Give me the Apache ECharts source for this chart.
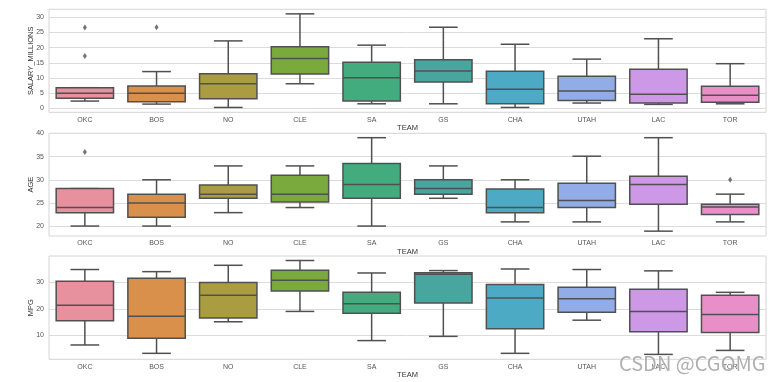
<!DOCTYPE html>
<html><head><meta charset="utf-8">
<script src="https://cdn.jsdelivr.net/npm/echarts@6/dist/echarts.min.js"></script>
<style>html,body{margin:0;padding:0;background:#fff}#c{width:781px;height:382px}</style>
</head><body><div id="c"></div>
<script>
const teams = ['OKC','BOS','NO','CLE','SA','GS','CHA','UTAH','LAC','TOR'];
// [min, Q1, median, Q3, max]
const salaryBox = [[2.4,3.3,4.95,6.8,6.8],[1.4,2.2,4.95,7.35,12.1],[0.3,3.2,8.1,11.4,22.2],[8.1,11.3,16.4,20.3,31.1],[1.5,2.4,10.1,15.2,20.8],[1.5,8.7,12.3,16.0,26.7],[0.3,1.5,6.3,12.2,21.1],[1.75,2.6,5.7,10.55,16.2],[1.3,1.75,4.6,12.85,22.9],[1.5,2.0,4.3,7.25,14.7]];
const salaryOut = [[0,26.6],[0,17.2],[1,26.7]];
const ageBox = [[20,22.9,24.0,28.1,28.1],[20,21.9,25,26.9,30],[22.9,26,26.9,28.9,33],[24,25.2,26.9,31,33],[20,26,29,33.5,39.1],[26,26.9,28.1,30,33],[20.9,22.9,24,28,30],[20.9,24,25.5,29.25,35.1],[18.9,24.7,29,30.75,39.1],[20.9,22.5,24.1,24.7,26.9]];
const ageOut = [[0,36],[9,30]];
const mpgBox = [[6.35,15.5,21.3,30.4,34.8],[3.2,8.9,17.2,31.5,34.0],[15.1,16.5,25.1,29.9,36.4],[19.0,26.7,30.75,34.5,38.2],[8.0,18.3,21.9,26.2,33.5],[9.6,22.2,33.0,33.6,34.4],[3.2,12.5,24.1,29.2,35.0],[15.7,18.7,23.8,28.1,34.8],[2.8,11.3,19.0,27.4,34.3],[4.3,11.1,17.8,25.1,26.2]];
const mpgOut = [];
const salaryTicks = [0,5,10,15,20,25,30];
const ageTicks = [20,25,30,35,40];
const mpgTicks = [10,20,30];
const colors = ['#E8919E','#D9904B','#AA9D41','#7AAA3E','#43AC7E','#49A69E','#4CAAC4','#91ACE6','#CD99E6','#E88FC8'];
const edge = '#505050';

const chart = echarts.init(document.getElementById('c'), null, {renderer:'canvas'});

function renderBox(params, api){
  const x = api.value(0);
  const p = i => api.coord([x, api.value(i)]);
  const lo = p(1), q1 = p(2), med = p(3), q3 = p(4), hi = p(5);
  const band = api.size([1,0])[0];
  const bw = band*0.8, cw = bw*0.5;
  const cx = lo[0];
  const ls = {stroke: edge, lineWidth: 1.5};
  return {type:'group', children:[
    {type:'line', shape:{x1:cx,y1:q3[1],x2:cx,y2:hi[1]}, style:ls},
    {type:'line', shape:{x1:cx,y1:q1[1],x2:cx,y2:lo[1]}, style:ls},
    {type:'line', shape:{x1:cx-cw/2,y1:hi[1],x2:cx+cw/2,y2:hi[1]}, style:ls},
    {type:'line', shape:{x1:cx-cw/2,y1:lo[1],x2:cx+cw/2,y2:lo[1]}, style:ls},
    {type:'rect', shape:{x:cx-bw/2,y:q3[1],width:bw,height:q1[1]-q3[1]}, style:{fill:colors[params.dataIndex], stroke:edge, lineWidth:1.5}},
    {type:'line', shape:{x1:cx-bw/2,y1:med[1],x2:cx+bw/2,y2:med[1]}, style:ls}
  ]};
}

const grids = [
  {left:49, width:717, top:9.3, height:103},
  {left:49, width:717, top:133.3, height:102.7},
  {left:49, width:717, top:256, height:103.3}
];
const yRanges = [[-1.3,32.6],[17.85,40.05],[0.95,39.9]];
const yTicks = [salaryTicks, ageTicks, mpgTicks];
const yNames = ['SALARY_MILLIONS','AGE','MPG'];
const boxes = [salaryBox, ageBox, mpgBox];
const outs = [salaryOut, ageOut, mpgOut];
const ff = 'Liberation Sans, Arial, sans-serif';

const option = {
  backgroundColor:'#fff',
  animation:false,
  grid: grids.map(g => Object.assign({show:true, borderColor:'#d4d4d4', borderWidth:1, backgroundColor:'#fff'}, g)),
  xAxis: grids.map((g,i) => ({
    type:'category', gridIndex:i, data:teams, boundaryGap:true,
    axisLine:{show:false}, axisTick:{show:false}, splitLine:{show:false},
    axisLabel:{fontSize:7, color:'#555', margin:4, fontFamily:ff},
    name:'TEAM', nameLocation:'middle', nameGap:12, nameMoveOverlap:false,
    nameTextStyle:{fontSize:7.5, color:'#333', fontFamily:ff}
  })),
  yAxis: grids.map((g,i) => ({
    type:'value', gridIndex:i, min:yRanges[i][0], max:yRanges[i][1],
    axisLine:{show:false},
    axisTick:{show:false, customValues:yTicks[i]},
    axisLabel:{fontSize:7, color:'#555', margin:5, fontFamily:ff, customValues:yTicks[i], showMinLabel:true, showMaxLabel:true},
    splitLine:{show:true, lineStyle:{color:'#dcdcdc', width:1}},
    name:yNames[i], nameLocation:'middle', nameGap:14, nameRotate:90, nameMoveOverlap:false,
    nameTextStyle:{fontSize:7.5, color:'#333', fontFamily:ff}
  })),
  series: []
};
for (let i=0;i<3;i++){
  option.series.push({
    type:'custom', xAxisIndex:i, yAxisIndex:i, renderItem:renderBox,
    data: boxes[i].map((b,k) => [k].concat(b)), z:3, clip:false
  });
  option.series.push({
    type:'scatter', xAxisIndex:i, yAxisIndex:i, symbol:'diamond', symbolSize:[4,6],
    itemStyle:{color:'#505050'}, data: outs[i], z:4
  });
}
option.graphic = [{
  type:'text', right:15, bottom:8, z:100,
  style:{text:'CSDN @CGOMG', fontSize:20, fill:'rgba(150,150,150,0.75)', fontFamily:'Noto Sans CJK SC, Noto Sans', stroke:'rgba(255,255,255,0.6)', lineWidth:1}
}];
chart.setOption(option);
</script></body></html>
